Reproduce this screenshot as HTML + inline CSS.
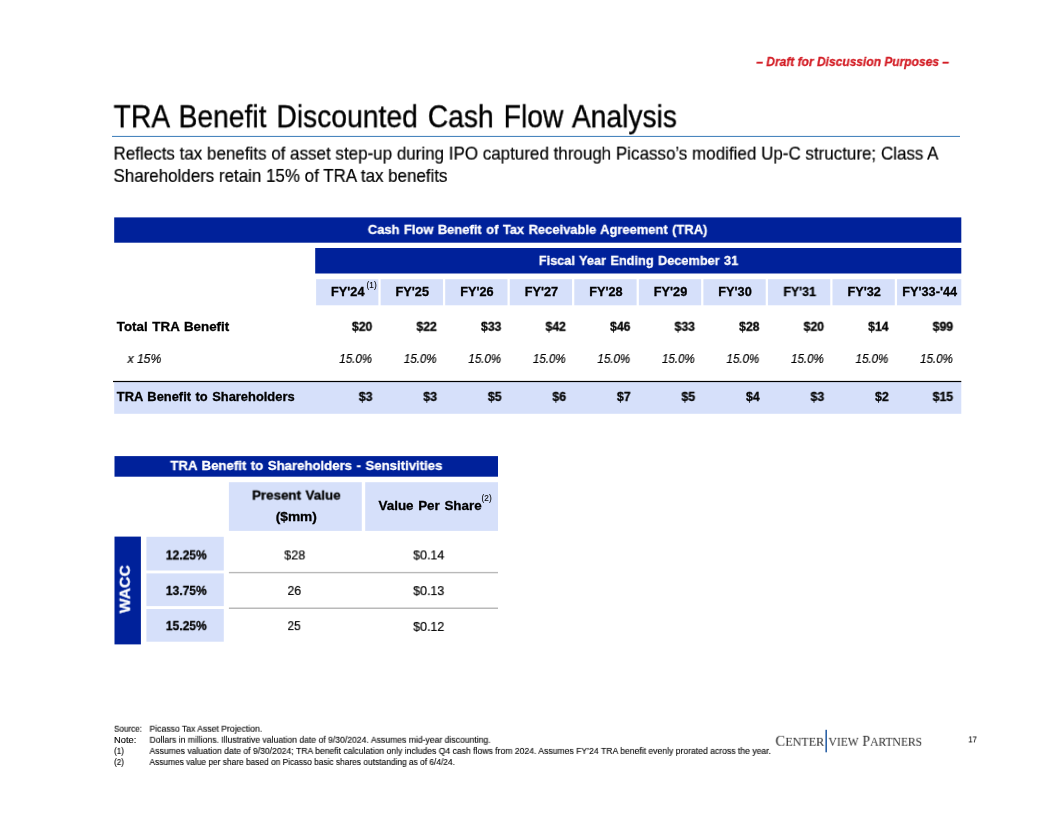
<!DOCTYPE html><html lang="en"><head><meta charset="utf-8"><title>TRA Benefit Discounted Cash Flow Analysis</title><style>
html,body{margin:0;padding:0;background:#fff;}body{width:1056px;height:816px;position:relative;overflow:hidden;font-family:"Liberation Sans", sans-serif;}
.r{position:absolute;}.t{position:absolute;white-space:nowrap;line-height:1;will-change:transform;}
</style></head><body><div id="page" style="position:absolute;left:0;top:0;width:1056px;height:816px;overflow:hidden;background:#fff">
<svg width="1056" height="816" viewBox="0 0 1056 816" style="position:absolute;left:0;top:0" shape-rendering="geometricPrecision">
<rect x="112.00" y="135.90" width="848.00" height="1.10" fill="#4A86BE"/>
<rect x="114.20" y="217.40" width="847.10" height="25.30" fill="#00219A"/>
<rect x="315.20" y="248.00" width="646.10" height="25.50" fill="#00219A"/>
<rect x="316.10" y="279.20" width="62.30" height="26.10" fill="#D6E0FA"/>
<rect x="380.65" y="279.20" width="62.30" height="26.10" fill="#D6E0FA"/>
<rect x="445.20" y="279.20" width="62.30" height="26.10" fill="#D6E0FA"/>
<rect x="509.75" y="279.20" width="62.30" height="26.10" fill="#D6E0FA"/>
<rect x="574.30" y="279.20" width="62.30" height="26.10" fill="#D6E0FA"/>
<rect x="638.85" y="279.20" width="62.30" height="26.10" fill="#D6E0FA"/>
<rect x="703.40" y="279.20" width="62.30" height="26.10" fill="#D6E0FA"/>
<rect x="767.95" y="279.20" width="62.30" height="26.10" fill="#D6E0FA"/>
<rect x="832.50" y="279.20" width="62.30" height="26.10" fill="#D6E0FA"/>
<rect x="897.05" y="279.20" width="64.25" height="26.10" fill="#D6E0FA"/>
<rect x="114.20" y="382.00" width="847.10" height="31.80" fill="#D6E0FA"/>
<rect x="113.00" y="380.90" width="848.30" height="1.20" fill="#000"/>
<rect x="114.50" y="456.10" width="383.50" height="20.60" fill="#00219A"/>
<rect x="228.90" y="482.20" width="132.90" height="48.70" fill="#D6E0FA"/>
<rect x="365.20" y="482.20" width="132.80" height="48.70" fill="#D6E0FA"/>
<rect x="114.50" y="536.60" width="26.40" height="107.80" fill="#00219A"/>
<rect x="146.40" y="536.80" width="77.40" height="33.70" fill="#D6E0FA"/>
<rect x="146.40" y="573.40" width="77.40" height="32.70" fill="#D6E0FA"/>
<rect x="146.40" y="609.00" width="77.40" height="32.70" fill="#D6E0FA"/>
<rect x="228.90" y="571.90" width="269.10" height="1.40" fill="#B9B9B9"/>
<rect x="228.90" y="607.50" width="269.10" height="1.50" fill="#B9B9B9"/>
<rect x="825.40" y="729.80" width="1.60" height="22.50" fill="#2C62A6"/>
</svg>
<div class="t" id="t0" style="top:55px;font-size:13.00px;font-weight:bold;font-style:italic;color:#D31D25;-webkit-text-stroke:0.30px;left:756px;transform-origin:0 50%;transform:translate(0.30px,0.00px) scaleX(0.9230);">&ndash; Draft for Discussion Purposes &ndash;</div>
<div class="t" id="t1" style="top:101px;font-size:30.50px;-webkit-text-stroke:0.35px #000;word-spacing:2.4px;left:113px;transform-origin:0 50%;transform:translate(0.60px,0.30px) scaleX(0.9254);">TRA Benefit Discounted Cash Flow Analysis</div>
<div class="t" id="t2" style="top:145px;font-size:17.70px;-webkit-text-stroke:0.20px;left:113px;transform-origin:0 50%;transform:translate(0.50px,0.60px) scaleX(0.9605);">Reflects tax benefits of asset step-up during IPO captured through Picasso&rsquo;s modified Up-C structure; Class A</div>
<div class="t" id="t3" style="top:167px;font-size:17.70px;-webkit-text-stroke:0.20px;left:113px;transform-origin:0 50%;transform:translate(0.50px,0.90px) scaleX(0.9578);">Shareholders retain 15% of TRA tax benefits</div>
<div class="t" id="t4" style="top:222px;font-size:13.40px;font-weight:bold;color:#fff;word-spacing:0.9px;-webkit-text-stroke:0.30px;left:337px;width:400px;text-align:center;transform-origin:50% 50%;transform:translate(0.60px,0.90px) scaleX(0.9657);">Cash Flow Benefit of Tax Receivable Agreement (TRA)</div>
<div class="t" id="t5" style="top:253px;font-size:13.40px;font-weight:bold;color:#fff;word-spacing:0.9px;-webkit-text-stroke:0.30px;left:438px;width:400px;text-align:center;transform-origin:50% 50%;transform:translate(0.50px,0.90px) scaleX(0.9521);">Fiscal Year Ending December 31</div>
<div class="t" id="t6" style="top:286px;font-size:12.40px;font-weight:bold;word-spacing:0.9px;-webkit-text-stroke:0.30px;left:147px;width:400px;text-align:center;transform-origin:50% 50%;transform:translate(0.75px,0.00px) scaleX(1.0257);">FY'24</div>
<div class="t" id="t7" style="top:320px;font-size:12.40px;font-weight:bold;word-spacing:0.9px;-webkit-text-stroke:0.30px;right:684px;transform-origin:100% 50%;transform:translate(0.60px,0.80px) scaleX(0.9850);">$20</div>
<div class="t" id="t8" style="top:353px;font-size:12.40px;font-style:italic;-webkit-text-stroke:0.20px;right:684px;transform-origin:100% 50%;transform:translate(0.00px,0.00px) scaleX(0.9350);">15.0%</div>
<div class="t" id="t9" style="top:390px;font-size:12.40px;font-weight:bold;word-spacing:0.9px;-webkit-text-stroke:0.30px;right:684px;transform-origin:100% 50%;transform:translate(0.60px,0.90px) scaleX(0.9850);">$3</div>
<div class="t" id="t10" style="top:286px;font-size:12.40px;font-weight:bold;word-spacing:0.9px;-webkit-text-stroke:0.30px;left:212px;width:400px;text-align:center;transform-origin:50% 50%;transform:translate(0.30px,0.00px) scaleX(1.0257);">FY'25</div>
<div class="t" id="t11" style="top:320px;font-size:12.40px;font-weight:bold;word-spacing:0.9px;-webkit-text-stroke:0.30px;right:619px;transform-origin:100% 50%;transform:translate(0.13px,0.80px) scaleX(0.9850);">$22</div>
<div class="t" id="t12" style="top:353px;font-size:12.40px;font-style:italic;-webkit-text-stroke:0.20px;right:620px;transform-origin:100% 50%;transform:translate(0.53px,0.00px) scaleX(0.9350);">15.0%</div>
<div class="t" id="t13" style="top:390px;font-size:12.40px;font-weight:bold;word-spacing:0.9px;-webkit-text-stroke:0.30px;right:619px;transform-origin:100% 50%;transform:translate(0.13px,0.90px) scaleX(0.9850);">$3</div>
<div class="t" id="t14" style="top:286px;font-size:12.40px;font-weight:bold;word-spacing:0.9px;-webkit-text-stroke:0.30px;left:276px;width:400px;text-align:center;transform-origin:50% 50%;transform:translate(0.85px,0.00px) scaleX(1.0257);">FY'26</div>
<div class="t" id="t15" style="top:320px;font-size:12.40px;font-weight:bold;word-spacing:0.9px;-webkit-text-stroke:0.30px;right:555px;transform-origin:100% 50%;transform:translate(0.66px,0.80px) scaleX(0.9850);">$33</div>
<div class="t" id="t16" style="top:353px;font-size:12.40px;font-style:italic;-webkit-text-stroke:0.20px;right:555px;transform-origin:100% 50%;transform:translate(0.06px,0.00px) scaleX(0.9350);">15.0%</div>
<div class="t" id="t17" style="top:390px;font-size:12.40px;font-weight:bold;word-spacing:0.9px;-webkit-text-stroke:0.30px;right:555px;transform-origin:100% 50%;transform:translate(0.66px,0.90px) scaleX(0.9850);">$5</div>
<div class="t" id="t18" style="top:286px;font-size:12.40px;font-weight:bold;word-spacing:0.9px;-webkit-text-stroke:0.30px;left:341px;width:400px;text-align:center;transform-origin:50% 50%;transform:translate(0.40px,0.00px) scaleX(1.0257);">FY'27</div>
<div class="t" id="t19" style="top:320px;font-size:12.40px;font-weight:bold;word-spacing:0.9px;-webkit-text-stroke:0.30px;right:490px;transform-origin:100% 50%;transform:translate(0.19px,0.80px) scaleX(0.9850);">$42</div>
<div class="t" id="t20" style="top:353px;font-size:12.40px;font-style:italic;-webkit-text-stroke:0.20px;right:491px;transform-origin:100% 50%;transform:translate(0.59px,0.00px) scaleX(0.9350);">15.0%</div>
<div class="t" id="t21" style="top:390px;font-size:12.40px;font-weight:bold;word-spacing:0.9px;-webkit-text-stroke:0.30px;right:490px;transform-origin:100% 50%;transform:translate(0.19px,0.90px) scaleX(0.9850);">$6</div>
<div class="t" id="t22" style="top:286px;font-size:12.40px;font-weight:bold;word-spacing:0.9px;-webkit-text-stroke:0.30px;left:405px;width:400px;text-align:center;transform-origin:50% 50%;transform:translate(0.95px,0.00px) scaleX(1.0257);">FY'28</div>
<div class="t" id="t23" style="top:320px;font-size:12.40px;font-weight:bold;word-spacing:0.9px;-webkit-text-stroke:0.30px;right:426px;transform-origin:100% 50%;transform:translate(0.72px,0.80px) scaleX(0.9850);">$46</div>
<div class="t" id="t24" style="top:353px;font-size:12.40px;font-style:italic;-webkit-text-stroke:0.20px;right:426px;transform-origin:100% 50%;transform:translate(0.12px,0.00px) scaleX(0.9350);">15.0%</div>
<div class="t" id="t25" style="top:390px;font-size:12.40px;font-weight:bold;word-spacing:0.9px;-webkit-text-stroke:0.30px;right:426px;transform-origin:100% 50%;transform:translate(0.72px,0.90px) scaleX(0.9850);">$7</div>
<div class="t" id="t26" style="top:286px;font-size:12.40px;font-weight:bold;word-spacing:0.9px;-webkit-text-stroke:0.30px;left:470px;width:400px;text-align:center;transform-origin:50% 50%;transform:translate(0.50px,0.00px) scaleX(1.0257);">FY'29</div>
<div class="t" id="t27" style="top:320px;font-size:12.40px;font-weight:bold;word-spacing:0.9px;-webkit-text-stroke:0.30px;right:361px;transform-origin:100% 50%;transform:translate(0.25px,0.80px) scaleX(0.9850);">$33</div>
<div class="t" id="t28" style="top:353px;font-size:12.40px;font-style:italic;-webkit-text-stroke:0.20px;right:362px;transform-origin:100% 50%;transform:translate(0.65px,0.00px) scaleX(0.9350);">15.0%</div>
<div class="t" id="t29" style="top:390px;font-size:12.40px;font-weight:bold;word-spacing:0.9px;-webkit-text-stroke:0.30px;right:361px;transform-origin:100% 50%;transform:translate(0.25px,0.90px) scaleX(0.9850);">$5</div>
<div class="t" id="t30" style="top:286px;font-size:12.40px;font-weight:bold;word-spacing:0.9px;-webkit-text-stroke:0.30px;left:535px;width:400px;text-align:center;transform-origin:50% 50%;transform:translate(0.05px,0.00px) scaleX(1.0257);">FY'30</div>
<div class="t" id="t31" style="top:320px;font-size:12.40px;font-weight:bold;word-spacing:0.9px;-webkit-text-stroke:0.30px;right:297px;transform-origin:100% 50%;transform:translate(0.78px,0.80px) scaleX(0.9850);">$28</div>
<div class="t" id="t32" style="top:353px;font-size:12.40px;font-style:italic;-webkit-text-stroke:0.20px;right:297px;transform-origin:100% 50%;transform:translate(0.18px,0.00px) scaleX(0.9350);">15.0%</div>
<div class="t" id="t33" style="top:390px;font-size:12.40px;font-weight:bold;word-spacing:0.9px;-webkit-text-stroke:0.30px;right:297px;transform-origin:100% 50%;transform:translate(0.78px,0.90px) scaleX(0.9850);">$4</div>
<div class="t" id="t34" style="top:286px;font-size:12.40px;font-weight:bold;word-spacing:0.9px;-webkit-text-stroke:0.30px;left:599px;width:400px;text-align:center;transform-origin:50% 50%;transform:translate(0.60px,0.00px) scaleX(0.9950);">FY'31</div>
<div class="t" id="t35" style="top:320px;font-size:12.40px;font-weight:bold;word-spacing:0.9px;-webkit-text-stroke:0.30px;right:232px;transform-origin:100% 50%;transform:translate(0.31px,0.80px) scaleX(0.9850);">$20</div>
<div class="t" id="t36" style="top:353px;font-size:12.40px;font-style:italic;-webkit-text-stroke:0.20px;right:233px;transform-origin:100% 50%;transform:translate(0.71px,0.00px) scaleX(0.9350);">15.0%</div>
<div class="t" id="t37" style="top:390px;font-size:12.40px;font-weight:bold;word-spacing:0.9px;-webkit-text-stroke:0.30px;right:232px;transform-origin:100% 50%;transform:translate(0.31px,0.90px) scaleX(0.9850);">$3</div>
<div class="t" id="t38" style="top:286px;font-size:12.40px;font-weight:bold;word-spacing:0.9px;-webkit-text-stroke:0.30px;left:664px;width:400px;text-align:center;transform-origin:50% 50%;transform:translate(0.15px,0.00px) scaleX(1.0257);">FY'32</div>
<div class="t" id="t39" style="top:320px;font-size:12.40px;font-weight:bold;word-spacing:0.9px;-webkit-text-stroke:0.30px;right:168px;transform-origin:100% 50%;transform:translate(0.84px,0.80px) scaleX(0.9850);">$14</div>
<div class="t" id="t40" style="top:353px;font-size:12.40px;font-style:italic;-webkit-text-stroke:0.20px;right:168px;transform-origin:100% 50%;transform:translate(0.24px,0.00px) scaleX(0.9350);">15.0%</div>
<div class="t" id="t41" style="top:390px;font-size:12.40px;font-weight:bold;word-spacing:0.9px;-webkit-text-stroke:0.30px;right:168px;transform-origin:100% 50%;transform:translate(0.84px,0.90px) scaleX(0.9850);">$2</div>
<div class="t" id="t42" style="top:286px;font-size:12.40px;font-weight:bold;word-spacing:0.9px;-webkit-text-stroke:0.30px;left:729px;width:400px;text-align:center;transform-origin:50% 50%;transform:translate(0.67px,0.00px) scaleX(1.0258);">FY'33-'44</div>
<div class="t" id="t43" style="top:320px;font-size:12.40px;font-weight:bold;word-spacing:0.9px;-webkit-text-stroke:0.30px;right:103px;transform-origin:100% 50%;transform:translate(0.37px,0.80px) scaleX(0.9850);">$99</div>
<div class="t" id="t44" style="top:353px;font-size:12.40px;font-style:italic;-webkit-text-stroke:0.20px;right:104px;transform-origin:100% 50%;transform:translate(0.77px,0.00px) scaleX(0.9350);">15.0%</div>
<div class="t" id="t45" style="top:390px;font-size:12.40px;font-weight:bold;word-spacing:0.9px;-webkit-text-stroke:0.30px;right:103px;transform-origin:100% 50%;transform:translate(0.37px,0.90px) scaleX(0.9850);">$15</div>
<div class="t" id="t46" style="top:282px;font-size:8.20px;-webkit-text-stroke:0.12px;left:366px;transform-origin:0 50%;transform:translate(0.60px,0.20px);">(1)</div>
<div class="t" id="t47" style="top:320px;font-size:12.40px;font-weight:bold;word-spacing:0.9px;-webkit-text-stroke:0.30px;left:116px;transform-origin:0 50%;transform:translate(0.80px,0.70px) scaleX(1.0769);">Total TRA Benefit</div>
<div class="t" id="t48" style="top:353px;font-size:12.40px;font-style:italic;-webkit-text-stroke:0.20px;left:127px;transform-origin:0 50%;transform:translate(0.60px,0.00px) scaleX(0.9757);">x 15%</div>
<div class="t" id="t49" style="top:390px;font-size:12.40px;font-weight:bold;word-spacing:0.9px;-webkit-text-stroke:0.30px;left:116px;transform-origin:0 50%;transform:translate(0.80px,0.90px) scaleX(1.0402);">TRA Benefit to Shareholders</div>
<div class="t" id="t50" style="top:459px;font-size:13.40px;font-weight:bold;color:#fff;word-spacing:0.9px;-webkit-text-stroke:0.30px;left:106px;width:400px;text-align:center;transform-origin:50% 50%;transform:translate(0.40px,0.00px) scaleX(0.9843);">TRA Benefit to Shareholders - Sensitivities</div>
<div class="t" id="t51" style="top:488px;font-size:13.40px;font-weight:bold;word-spacing:0.9px;-webkit-text-stroke:0.30px;left:96px;width:400px;text-align:center;transform-origin:50% 50%;transform:translate(0.30px,0.60px) scaleX(0.9985);">Present Value</div>
<div class="t" id="t52" style="top:509px;font-size:13.40px;font-weight:bold;word-spacing:0.9px;-webkit-text-stroke:0.30px;left:96px;width:400px;text-align:center;transform-origin:50% 50%;transform:translate(0.30px,0.90px) scaleX(1.0252);">($mm)</div>
<div class="t" id="t53" style="top:499px;font-size:13.40px;font-weight:bold;word-spacing:0.9px;-webkit-text-stroke:0.30px;left:378px;transform-origin:0 50%;transform:translate(0.50px,0.00px) scaleX(1.0015);">Value Per Share</div>
<div class="t" id="t54" style="top:494px;font-size:8.20px;-webkit-text-stroke:0.12px;left:481px;transform-origin:0 50%;transform:translate(0.60px,0.60px);">(2)</div>
<div class="t" id="t55" style="top:548px;font-size:13.40px;font-weight:bold;word-spacing:0.9px;-webkit-text-stroke:0.30px;left:-14px;width:400px;text-align:center;transform-origin:50% 50%;transform:translate(0.30px,0.40px) scaleX(0.9026);">12.25%</div>
<div class="t" id="t56" style="top:583px;font-size:13.40px;font-weight:bold;word-spacing:0.9px;-webkit-text-stroke:0.30px;left:-14px;width:400px;text-align:center;transform-origin:50% 50%;transform:translate(0.30px,0.90px) scaleX(0.9026);">13.75%</div>
<div class="t" id="t57" style="top:619px;font-size:13.40px;font-weight:bold;word-spacing:0.9px;-webkit-text-stroke:0.30px;left:-14px;width:400px;text-align:center;transform-origin:50% 50%;transform:translate(0.30px,0.10px) scaleX(0.9026);">15.25%</div>
<div class="t" id="t58" style="top:548px;font-size:13.40px;-webkit-text-stroke:0.20px;left:94px;width:400px;text-align:center;transform-origin:50% 50%;transform:translate(0.75px,0.40px) scaleX(0.9399);">$28</div>
<div class="t" id="t59" style="top:583px;font-size:13.40px;-webkit-text-stroke:0.20px;left:94px;width:400px;text-align:center;transform-origin:50% 50%;transform:translate(0.30px,0.90px) scaleX(0.9124);">26</div>
<div class="t" id="t60" style="top:619px;font-size:13.40px;-webkit-text-stroke:0.20px;left:94px;width:400px;text-align:center;transform-origin:50% 50%;transform:translate(0.10px,0.10px) scaleX(0.8855);">25</div>
<div class="t" id="t61" style="top:548px;font-size:13.40px;-webkit-text-stroke:0.20px;left:228px;width:400px;text-align:center;transform-origin:50% 50%;transform:translate(0.70px,0.40px) scaleX(0.9309);">$0.14</div>
<div class="t" id="t62" style="top:584px;font-size:13.40px;-webkit-text-stroke:0.20px;left:228px;width:400px;text-align:center;transform-origin:50% 50%;transform:translate(0.70px,0.10px) scaleX(0.9309);">$0.13</div>
<div class="t" id="t63" style="top:619px;font-size:13.40px;-webkit-text-stroke:0.20px;left:228px;width:400px;text-align:center;transform-origin:50% 50%;transform:translate(0.70px,0.90px) scaleX(0.9309);">$0.12</div>
<div class="t" id="t64" style="top:724px;font-size:9.00px;-webkit-text-stroke:0.12px;left:114px;transform-origin:0 50%;transform:translate(0.00px,0.70px) scaleX(0.9023);">Source:</div>
<div class="t" id="t65" style="top:735px;font-size:9.00px;-webkit-text-stroke:0.12px;left:114px;transform-origin:0 50%;transform:translate(0.00px,0.80px) scaleX(1.0365);">Note:</div>
<div class="t" id="t66" style="top:746px;font-size:9.00px;-webkit-text-stroke:0.12px;left:114px;transform-origin:0 50%;transform:translate(0.00px,0.90px) scaleX(0.9091);">(1)</div>
<div class="t" id="t67" style="top:758px;font-size:9.00px;-webkit-text-stroke:0.12px;left:114px;transform-origin:0 50%;transform:translate(0.00px,0.00px) scaleX(0.9091);">(2)</div>
<div class="t" id="t68" style="top:724px;font-size:9.00px;-webkit-text-stroke:0.12px;left:149px;transform-origin:0 50%;transform:translate(0.50px,0.70px) scaleX(0.9591);">Picasso Tax Asset Projection.</div>
<div class="t" id="t69" style="top:735px;font-size:9.00px;-webkit-text-stroke:0.12px;left:149px;transform-origin:0 50%;transform:translate(0.50px,0.80px) scaleX(0.9574);">Dollars in millions. Illustrative valuation date of 9/30/2024. Assumes mid-year discounting.</div>
<div class="t" id="t70" style="top:746px;font-size:9.00px;-webkit-text-stroke:0.12px;left:149px;transform-origin:0 50%;transform:translate(0.50px,0.90px) scaleX(0.9576);">Assumes valuation date of 9/30/2024; TRA benefit calculation only includes Q4 cash flows from 2024. Assumes FY&rsquo;24 TRA benefit evenly prorated across the year.</div>
<div class="t" id="t71" style="top:758px;font-size:9.00px;-webkit-text-stroke:0.12px;left:149px;transform-origin:0 50%;transform:translate(0.50px,0.00px) scaleX(0.9274);">Assumes value per share based on Picasso basic shares outstanding as of 6/4/24.</div>
<div class="t" id="t72" style="top:735px;font-size:9.30px;-webkit-text-stroke:0.12px;left:968px;transform-origin:0 50%;transform:translate(0.30px,0.40px) scaleX(0.8121);">17</div>
<div class="t" id="t73" style="top:732px;font-size:15.20px;color:#2b2b2b;font-family:'Liberation Serif', serif;-webkit-text-stroke:0;left:775px;transform-origin:0 50%;transform:translate(0.40px,0.80px) scaleX(0.9678);">C<span style="font-size:12.5px">ENTER</span></div>
<div class="t" id="t74" style="top:732px;font-size:15.20px;color:#2b2b2b;font-family:'Liberation Serif', serif;-webkit-text-stroke:0;left:828px;transform-origin:0 50%;transform:translate(0.50px,0.80px) scaleX(0.9260);"><span style="font-size:12.5px">VIEW</span> P<span style="font-size:12.5px">ARTNERS</span></div>
<div class="t" style="left:74.90px;top:582.30px;width:100px;text-align:center;font-size:14.40px;font-weight:bold;color:#fff;-webkit-text-stroke:0.3px;transform:rotate(-90deg) scaleX(1.09);transform-origin:50% 50%;">WACC</div>
</div></body></html>
